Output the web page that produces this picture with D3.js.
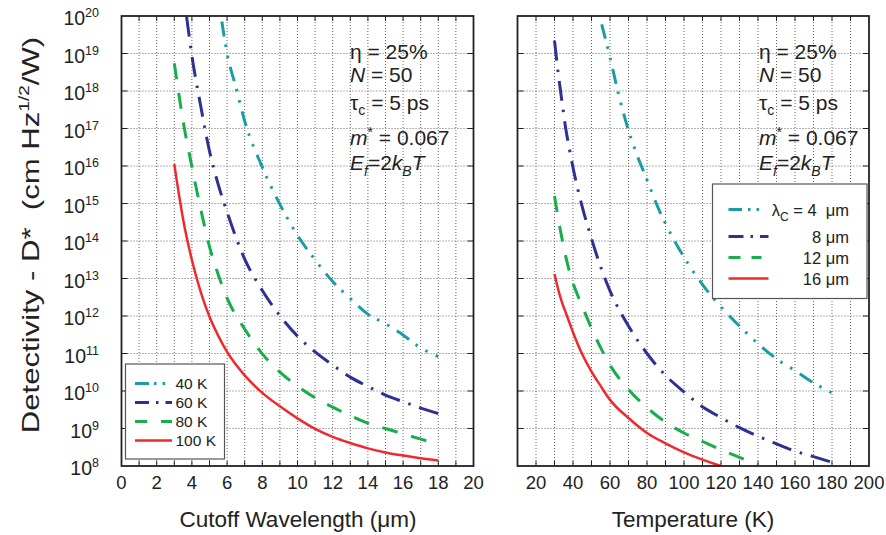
<!DOCTYPE html>
<html><head><meta charset="utf-8">
<script src="https://cdn.jsdelivr.net/npm/d3@7"></script>
<style>
body{margin:0;background:#fff;}
svg{display:block;font-family:"Liberation Sans",Arial,Helvetica,sans-serif;}
text{white-space:pre;}
</style></head><body>
<svg id="chart" width="886" height="535"></svg>
<script>
// ---------- data ----------
const wavelengthTicks = [0, 2, 4, 6, 8, 10, 12, 14, 16, 18, 20];
const temperatureTicks = [20, 40, 60, 80, 100, 120, 140, 160, 180, 200];
const decadeExponents = [8, 9, 10, 11, 12, 13, 14, 15, 16, 17, 18, 19, 20];

// Left panel: D* vs cutoff wavelength (um) for several temperatures
const wavelength40K = [5.7, 6, 6.5, 7, 8, 9, 10, 11, 12, 13, 14, 15, 16, 17, 18];
const detectivity40K = [7.1e19, 1.0e19, 1.26e18, 1.58e17, 9.3e15, 9.5e14, 1.41e14, 3.16e13, 8.3e12, 2.95e12, 1.12e12, 6.2e11, 3.1e11, 1.41e11, 8.3e10];
const wavelength60K = [3.7, 4, 4.5, 5, 5.5, 6, 7, 8, 9, 10, 11, 12, 13, 14, 15, 16, 17, 18];
const detectivity60K = [9.5e19, 8.7e18, 4.0e17, 2.5e16, 3.16e15, 5.9e14, 3.3e13, 4.8e12, 1.02e12, 2.9e11, 1.1e11, 4.9e10, 2.34e10, 1.32e10, 7.8e9, 5.2e9, 3.5e9, 2.5e9];
const wavelength80K = [3, 3.5, 4, 4.5, 5, 5.5, 6, 7, 8, 9, 10, 11, 12, 13, 14, 15, 16, 17, 18];
const detectivity80K = [5.5e18, 1.58e17, 9.5e15, 7.1e14, 7.1e13, 1.26e13, 3.0e12, 4.5e11, 9.8e10, 3.2e10, 1.35e10, 6.6e9, 3.7e9, 2.2e9, 1.38e9, 1.0e9, 7.2e8, 5.2e8, 3.8e8];
const wavelength100K = [3, 3.5, 4, 4.5, 5, 5.5, 6, 7, 8, 9, 10, 11, 12, 13, 14, 15, 16, 17, 18];
const detectivity100K = [1.12e16, 3.8e14, 3.1e13, 4.4e12, 9.5e11, 2.95e11, 1.1e11, 2.6e10, 8.9e9, 3.9e9, 1.86e9, 9.8e8, 6.0e8, 4.1e8, 2.95e8, 2.3e8, 1.9e8, 1.62e8, 1.41e8];

// Right panel: D* vs temperature (K) for several cutoff wavelengths
const temperature4um = [55.5, 60, 65, 70, 75, 80, 85, 90, 95, 100, 110, 120, 130, 140, 150, 160, 170, 180];
const detectivity4um = [6.0e19, 7.9e18, 6.9e17, 8.9e16, 1.74e16, 4.3e15, 1.0e15, 2.9e14, 9.8e13, 3.7e13, 6.9e12, 1.74e12, 5.4e11, 1.82e11, 7.2e10, 3.5e10, 1.66e10, 8.9e9];
const temperature8um = [30, 32, 34, 36, 38, 40, 45, 50, 55, 60, 70, 80, 90, 100, 110, 120, 130, 140, 150, 160, 170, 180];
const detectivity8um = [2.2e19, 3.0e18, 5.4e17, 1.05e17, 2.95e16, 9.1e15, 8.1e14, 1.17e14, 2.0e13, 4.7e12, 5.4e11, 1.0e11, 2.6e10, 9.5e9, 3.8e9, 1.95e9, 1.05e9, 6.2e8, 3.9e8, 2.5e8, 1.78e8, 1.26e8];
const temperature12um = [30, 32, 34, 36, 38, 40, 45, 50, 55, 60, 70, 80, 90, 100, 110, 120, 130, 140];
const detectivity12um = [1.58e15, 4.0e14, 1.2e14, 4.0e13, 1.58e13, 7.6e12, 1.82e12, 4.7e11, 1.41e11, 4.9e10, 1.1e10, 3.6e9, 1.48e9, 7.6e8, 4.5e8, 2.7e8, 1.7e8, 1.02e8];
const temperature16um = [30, 32, 34, 36, 38, 40, 45, 50, 55, 60, 70, 80, 90, 100, 110, 120];
const detectivity16um = [1.32e13, 5.1e12, 2.34e12, 1.26e12, 6.8e11, 3.7e11, 9.5e10, 3.3e10, 1.35e10, 5.8e9, 1.9e9, 7.6e8, 4.0e8, 2.3e8, 1.48e8, 1.0e8];

const leftLabels = ["40 K", "60 K", "80 K", "100 K"];
const rightLabels = ["4", "8", "12", "16"];

// ---------- styles ----------
const COLORS = ["#1a9ea4", "#2e3192", "#19ad4b", "#ee2a2e"];
const DASH = ["15,8,2.5,9,2.5,9", "20,9,2.5,9", "16,14", null];
const LEGEND_DASH_L = ["14,5,2.5,6,2.5,30", "14,7,2.5,7", "12,14", null];
const LEGEND_DASH_R = ["13.5,6,2.5,6,2.5,30", "15,7,2.5,7", "12,11,10,20", null];
const WIDTH = [3, 3, 3, 2.5];

const svg = d3.select("#chart");
const Y0 = 16, Y1 = 466;
const y = d3.scaleLog().domain([1e8, 1e20]).range([Y1, Y0]);

function panel(id, x0, x1, domain, gridStep, labelTicks, seriesX, seriesY) {
  const x = d3.scaleLinear().domain(domain).range([x0, x1]);
  const g = svg.append("g");
  g.append("clipPath").attr("id", "clip" + id).append("rect")
    .attr("x", x0).attr("y", Y0).attr("width", x1 - x0).attr("height", Y1 - Y0);

  // grid
  const gridX = d3.range(domain[0] + gridStep, domain[1] - gridStep / 2, gridStep);
  g.selectAll(".gx").data(gridX).join("line")
    .attr("x1", d => x(d)).attr("x2", d => x(d)).attr("y1", Y0).attr("y2", Y1)
    .attr("stroke", "#555").attr("stroke-width", 0.9).attr("stroke-dasharray", "1,2");
  const gridY = decadeExponents.slice(1, -1).map(e => Math.pow(10, e));
  g.selectAll(".gy").data(gridY).join("line")
    .attr("x1", x0).attr("x2", x1).attr("y1", d => y(d)).attr("y2", d => y(d))
    .attr("stroke", "#555").attr("stroke-width", 0.9).attr("stroke-dasharray", "1,2");

  // inward ticks
  g.selectAll(".tb").data(gridX).join("line")
    .attr("x1", d => x(d)).attr("x2", d => x(d)).attr("y1", Y1).attr("y2", Y1 - 5)
    .attr("stroke", "#222").attr("stroke-width", 1);
  g.selectAll(".tt").data(gridX).join("line")
    .attr("x1", d => x(d)).attr("x2", d => x(d)).attr("y1", Y0).attr("y2", Y0 + 5)
    .attr("stroke", "#222").attr("stroke-width", 1);
  g.selectAll(".tl").data(gridY).join("line")
    .attr("x1", x0).attr("x2", x0 + 6).attr("y1", d => y(d)).attr("y2", d => y(d))
    .attr("stroke", "#222").attr("stroke-width", 1);
  g.selectAll(".tr").data(gridY).join("line")
    .attr("x1", x1).attr("x2", x1 - 6).attr("y1", d => y(d)).attr("y2", d => y(d))
    .attr("stroke", "#222").attr("stroke-width", 1);

  // x tick labels
  g.selectAll(".xl").data(labelTicks).join("text")
    .attr("x", d => x(d)).attr("y", 489).attr("text-anchor", "middle")
    .attr("font-size", 18.5).attr("fill", "#222").text(d => d);

  // series
  const line = d3.line().x(d => x(d[0])).y(d => y(d[1])).curve(d3.curveMonotoneX);
  const plot = g.append("g").attr("clip-path", `url(#clip${id})`);
  seriesX.forEach((xs, i) => {
    const pts = xs.map((v, k) => [v, seriesY[i][k]]);
    plot.append("path").attr("d", line(pts)).attr("fill", "none")
      .attr("stroke", COLORS[i]).attr("stroke-width", WIDTH[i])
      .attr("stroke-dasharray", DASH[i]);
  });

  // frame
  g.append("rect").attr("x", x0).attr("y", Y0).attr("width", x1 - x0).attr("height", Y1 - Y0)
    .attr("fill", "none").attr("stroke", "#222").attr("stroke-width", 1.8);
  return x;
}

panel("L", 121.5, 473.5, [0, 20], 1, wavelengthTicks,
  [wavelength40K, wavelength60K, wavelength80K, wavelength100K],
  [detectivity40K, detectivity60K, detectivity80K, detectivity100K]);
panel("R", 517.5, 869, [10, 200], 10, temperatureTicks,
  [temperature4um, temperature8um, temperature12um, temperature16um],
  [detectivity4um, detectivity8um, detectivity12um, detectivity16um]);

// y tick labels
const yl = svg.selectAll(".yl").data(decadeExponents).join("text")
  .attr("x", 99).attr("y", d => y(Math.pow(10, d)) + 9).attr("text-anchor", "end")
  .attr("font-size", 19.5).attr("fill", "#222");
yl.append("tspan").text("10");
yl.append("tspan").attr("dy", -8).attr("font-size", 12.5).text(d => d);

// axis titles
const yt = svg.append("text").attr("transform", "translate(39,235) rotate(-90) scale(1.27,1)")
  .attr("text-anchor", "middle").attr("font-size", 24.5).attr("fill", "#222");
yt.append("tspan").text("Detectivity - D*  (cm Hz");
yt.append("tspan").attr("dy", -10).attr("font-size", 15).text("1/2");
yt.append("tspan").attr("dy", 10).text("/W)");

svg.append("text").attr("x", 298).attr("y", 527).attr("text-anchor", "middle")
  .attr("font-size", 22.5).attr("fill", "#222").text("Cutoff Wavelength (\u03bcm)");
svg.append("text").attr("x", 693).attr("y", 527).attr("text-anchor", "middle")
  .attr("font-size", 22.5).attr("fill", "#222").text("Temperature (K)");

// annotations
function annotate(ax) {
  const fs = 21;
  const rows = [58.5, 82, 110, 145, 170];
  const g = svg.append("g").attr("font-size", fs).attr("fill", "#222");
  g.append("text").attr("x", ax).attr("y", rows[0]).text("\u03b7 = 25%");
  const n = g.append("text").attr("x", ax).attr("y", rows[1]);
  n.append("tspan").attr("font-style", "italic").text("N");
  n.append("tspan").text(" = 50");
  const t = g.append("text").attr("x", ax).attr("y", rows[2]);
  t.append("tspan").text("\u03c4");
  t.append("tspan").attr("dy", 5).attr("font-size", 14).text("c");
  t.append("tspan").attr("dy", -5).text(" = 5 ps");
  const m = g.append("text").attr("x", ax).attr("y", rows[3]);
  m.append("tspan").attr("font-style", "italic").text("m");
  m.append("tspan").attr("dy", -8).attr("font-size", 14).text("*");
  m.append("tspan").attr("dy", 8).text(" = 0.067");
  const e = g.append("text").attr("x", ax).attr("y", rows[4]);
  e.append("tspan").attr("font-style", "italic").text("E");
  e.append("tspan").attr("dy", 6).attr("font-size", 14).attr("font-style", "italic").text("f");
  e.append("tspan").attr("dy", -6).text("=2");
  e.append("tspan").attr("font-style", "italic").text("k");
  e.append("tspan").attr("dy", 6).attr("font-size", 14).attr("font-style", "italic").text("B");
  e.append("tspan").attr("dy", -6).attr("font-style", "italic").text("T");
}
annotate(350);
annotate(759);

// legends
function legend(bx, by, bw, bh, rowsY, lx0, lx1, dashes, labelFn) {
  const g = svg.append("g");
  g.append("rect").attr("x", bx).attr("y", by).attr("width", bw).attr("height", bh)
    .attr("fill", "#fff").attr("stroke", "#555").attr("stroke-width", 1.2);
  rowsY.forEach((ry, i) => {
    g.append("line").attr("x1", lx0).attr("x2", lx1).attr("y1", ry).attr("y2", ry)
      .attr("stroke", COLORS[i]).attr("stroke-width", WIDTH[i])
      .attr("stroke-dasharray", dashes[i]);
    labelFn(g, ry, i);
  });
}
legend(125.5, 364, 99, 95, [383.5, 402.5, 421.5, 440.5], 135, 172, LEGEND_DASH_L, (g, ry, i) => {
  g.append("text").attr("x", 175.5).attr("y", ry + 5.5).attr("font-size", 15.5)
    .attr("fill", "#222").text(leftLabels[i]);
});
legend(712.5, 184, 154.5, 114.5, [209.5, 236.5, 257.5, 278.5], 728.5, 768.5, LEGEND_DASH_R, (g, ry, i) => {
  const t = g.append("text").attr("x", 849).attr("y", ry + 6).attr("font-size", 16.5)
    .attr("fill", "#222").attr("text-anchor", "end");
  if (i === 0) {
    t.append("tspan").text("\u03bb");
    t.append("tspan").attr("dy", 5).attr("font-size", 12).text("C");
    t.append("tspan").attr("dy", -5).text(" = " + rightLabels[i] + "  \u03bcm");
  } else {
    t.text(rightLabels[i] + " \u03bcm");
  }
});
</script>
</body></html>
